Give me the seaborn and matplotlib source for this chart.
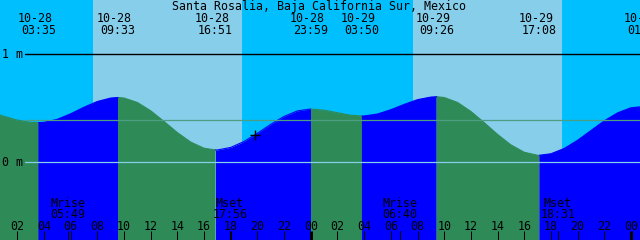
import matplotlib
matplotlib.use("Agg")
import matplotlib.pyplot as plt
import matplotlib.transforms as mtransforms
import pandas as pd
import seaborn as sns

# ---------------- data ----------------
title = "Santa Rosalia, Baja California Sur, Mexico"

extreme_times = ["10-28 03:35", "10-28 09:33", "10-28 16:51", "10-28 23:59",
                 "10-29 03:50", "10-29 09:26", "10-29 17:08", "10-30 01:00"]
extreme_levels = [0.367, 0.600, 0.114, 0.493, 0.429, 0.607, 0.065, 0.517]

# tide height, hourly from 10-28 00:00
curve_hours = list(range(0, 49))
curve_levels = [0.465, 0.426, 0.391, 0.370, 0.370, 0.398, 0.449, 0.510,
                0.563, 0.595, 0.595, 0.554, 0.477, 0.378, 0.275, 0.187,
                0.130, 0.114, 0.138, 0.193, 0.269, 0.352, 0.425, 0.476,
                0.493, 0.483, 0.459, 0.436, 0.429, 0.447, 0.487, 0.536,
                0.580, 0.604, 0.600, 0.554, 0.471, 0.367, 0.258, 0.161,
                0.093, 0.065, 0.079, 0.128, 0.204, 0.294, 0.384, 0.458,
                0.505]

sunrise_times = ["10-28 07:40", "10-29 07:40"]
sunset_times = ["10-28 18:50", "10-29 18:50"]

moon_names = ["Mrise", "Mset", "Mrise", "Mset"]
moon_times = ["10-28 05:49", "10-28 17:56", "10-29 06:40", "10-29 18:31"]

hour_ticks = list(range(2, 49, 2))
hour_tick_labels = ["02", "04", "06", "08", "10", "12", "14", "16", "18", "20", "22", "00",
                    "02", "04", "06", "08", "10", "12", "14", "16", "18", "20", "22", "00"]

level_ticks = [0, 1]
level_labels = ["0 m", "1 m"]
mean_level = 0.389

now_time = "10-28 19:49"
now_level = 0.254


def to_hours(s):
    d, t = s.split()
    day = int(d.split("-")[1]) - 28
    hh, mm = (int(v) for v in t.split(":"))
    return day * 24 + hh + mm / 60.0


# ---------------- style ----------------
NIGHT = "#00BFFF"
DAY = "#87CEEB"
FLOOD = "#0000FF"
EBB = "#2E8B57"
MEAN = "#4E9E84"
DATUM = "#87CEEB"
FS = 8.4
TXT = "black"

sns.set_theme(style="white")
plt.rcParams["font.family"] = ["DejaVu Sans Mono", "DejaVu Sans"]
plt.rcParams["text.color"] = TXT

W, H = 640, 240
fig = plt.figure(figsize=(W / 100, H / 100), dpi=100)
ax = fig.add_axes([0, 0, 1, 1])

PX_PER_H = 13.341
X0 = -9.38
ZERO_Y = 162.3
PX_PER_M = 108.0
xmin, xmax = -X0 / PX_PER_H, (W - X0) / PX_PER_H
ymin, ymax = (ZERO_Y - H) / PX_PER_M, ZERO_Y / PX_PER_M


def ypos(p):
    return 1 - p / H


trans_x = mtransforms.blended_transform_factory(ax.transData, ax.transAxes)
trans_y = mtransforms.blended_transform_factory(ax.transAxes, ax.transData)

# background night / day
ax.axvspan(xmin - 1, xmax + 1, color=NIGHT, lw=0, zorder=0)
for r, s in zip(sunrise_times, sunset_times):
    ax.axvspan(to_hours(r), to_hours(s), color=DAY, lw=0, zorder=0.5)

# tide curve split into flood / ebb segments
ext_h = [to_hours(t) for t in extreme_times]
pts = sorted(zip(curve_hours + ext_h, curve_levels + extreme_levels))
bounds = [pts[0][0]] + ext_h + [pts[-1][0]]
rows = []
for i in range(len(bounds) - 1):
    a, b = bounds[i], bounds[i + 1]
    seg = [(h, l) for h, l in pts if a <= h <= b]
    if len(seg) < 2:
        continue
    phase = "flood" if seg[-1][1] > seg[0][1] else "ebb"
    for h, l in seg:
        rows.append(dict(hour=h, level=l, phase=phase, segment=i))
df = pd.DataFrame(rows)
palette = {"flood": FLOOD, "ebb": EBB}
for seg_id, g in df.groupby("segment"):
    ax.fill_between(g["hour"], g["level"], ymin - 1, color=palette[g["phase"].iloc[0]],
                    lw=0, zorder=2)
sns.lineplot(data=df, x="hour", y="level", hue="phase", units="segment",
             estimator=None, palette=palette, legend=False, lw=0.8, sort=False,
             ax=ax, zorder=3)

# level lines
ax.axhline(1, xmin=25 / W, xmax=1, color="black", lw=1.0, zorder=4)
ax.axhline(mean_level, xmin=25 / W, xmax=1, color=MEAN, lw=0.9, zorder=4)
ax.axhline(0, xmin=25 / W, xmax=1, color=DATUM, lw=0.9, zorder=4)

# current-time marker
sns.scatterplot(x=[to_hours(now_time)], y=[now_level], marker="+", s=48,
                color="black", linewidth=1.0, ax=ax, zorder=6)

# hour ticks at bottom
for h in hour_ticks:
    ax.vlines(h, 0, ypos(231), transform=trans_x, colors="black",
              lw=2.2 if h % 24 == 0 else 0.75, zorder=5)
for t in moon_times:
    ax.vlines(to_hours(t), 0, ypos(231), transform=trans_x, colors="black",
              lw=0.75, zorder=5)

# texts
fig.text(319 / W, ypos(10), title, ha="center", va="baseline", fontsize=FS, color=TXT)

date_trans = mtransforms.offset_copy(trans_x, fig=fig, x=-3.5, y=0, units="dots")
for t in extreme_times:
    h = to_hours(t)
    d, tm = t.split()
    ax.text(h, ypos(22), d, transform=date_trans, ha="center", va="baseline",
            fontsize=FS, color=TXT, zorder=7)
    ax.text(h, ypos(34), tm, transform=trans_x, ha="center", va="baseline",
            fontsize=FS, color=TXT, zorder=7)

for name, t in zip(moon_names, moon_times):
    h = to_hours(t)
    ax.text(h, ypos(207), name, transform=trans_x, ha="center", va="baseline",
            fontsize=FS, color=TXT, zorder=7)
    ax.text(h, ypos(218), t.split()[1], transform=trans_x, ha="center", va="baseline",
            fontsize=FS, color=TXT, zorder=7)

for h, lab in zip(hour_ticks, hour_tick_labels):
    ax.text(h, ypos(229.5), lab, transform=trans_x, ha="center", va="baseline",
            fontsize=FS, color=TXT, zorder=7)

lab_trans = mtransforms.offset_copy(trans_y, fig=fig, x=0, y=-3.2, units="dots")
for lv, lab in zip(level_ticks, level_labels):
    ax.text(1.5 / W, lv, lab, transform=lab_trans, ha="left", va="baseline",
            fontsize=FS, color=TXT, zorder=7)

ax.set_xlim(xmin, xmax)
ax.set_ylim(ymin, ymax)
ax.set_axis_off()

fig.savefig("out.png", dpi=100)
